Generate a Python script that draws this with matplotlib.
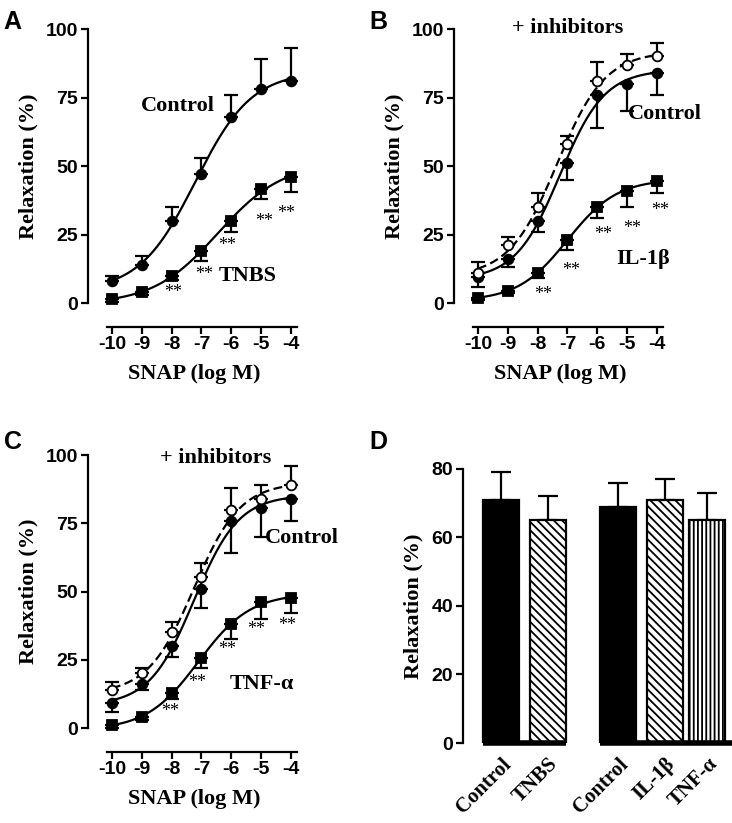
import numpy as np
import matplotlib
matplotlib.use("Agg")
import matplotlib.pyplot as plt

# SNAP concentration (log M)
log_snap = [-10, -9, -8, -7, -6, -5, -4]

# Panel A
a_control = [8, 14, 30, 47, 68, 78, 81]
a_control_err = [2, 3, 5, 6, 8, 11, 12]
a_tnbs = [1.5, 4, 10, 19, 30, 41.5, 46]
a_tnbs_err = [1, 1, 1.5, 3.5, 4, 3.5, 5.5]

# Panel B
b_control = [9.5, 16, 30, 51, 76, 80, 84]
b_control_err = [3.5, 3, 4, 6, 12, 10, 8]
b_inhib = [11, 21, 35, 58, 81, 87, 90]
b_inhib_err = [4, 3, 5, 3, 7, 4, 5]
b_il1 = [2, 4.5, 11, 23, 35, 41, 44.5]
b_il1_err = [1, 1, 2, 3.5, 4, 6, 4.5]

# Panel C
c_control = [9, 16, 30, 51, 76, 80.5, 84]
c_control_err = [3, 2, 4, 7, 12, 10.5, 8]
c_inhib = [14, 20, 35, 55.5, 80, 84, 89]
c_inhib_err = [3, 2, 4, 5, 8, 5, 7]
c_tnf = [1, 4, 13, 25.5, 38, 46, 47.5]
c_tnf_err = [1, 1, 2.5, 3.5, 5.5, 6, 5.5]

# Panel D
d_labels = ["Control", "TNBS", "Control", "IL-1β", "TNF-α"]
d_values = [71, 65, 69, 71, 65]
d_err = [8, 7, 7, 6, 8]

SERIF = "Liberation Serif"
SANS = "Liberation Sans"
plt.rcParams["font.family"] = SANS
plt.rcParams["hatch.linewidth"] = 1.3
plt.rcParams["axes.unicode_minus"] = False


def fit_sigmoid(x, y):
    # least squares fit of a logistic dose-response curve (grid over EC50/slope)
    x = np.asarray(x, float)
    y = np.asarray(y, float)
    best = None
    for ec in np.linspace(-10, -4, 121):
        for h in np.linspace(0.2, 1.5, 66):
            s = 1.0 / (1.0 + 10 ** ((ec - x) * h))
            A = np.column_stack([np.ones_like(s), s])
            coef, _, _, _ = np.linalg.lstsq(A, y, rcond=None)
            r = np.sum((A @ coef - y) ** 2)
            if best is None or r < best[0]:
                best = (r, ec, h, coef)
    _, ec, h, coef = best
    xs = np.linspace(x.min(), x.max(), 200)
    s = 1.0 / (1.0 + 10 ** ((ec - xs) * h))
    return xs, coef[0] + coef[1] * s


def draw_series(ax, y, err, marker, face, ls, up):
    xs, ys = fit_sigmoid(log_snap, y)
    ax.plot(xs, ys, color="black", lw=1.6, ls=ls, clip_on=False, zorder=2)
    e = np.array(err)
    yerr = [np.zeros_like(e), e] if up else [e, np.zeros_like(e)]
    ax.errorbar(log_snap, y, yerr=yerr, fmt="none", ecolor="black",
                elinewidth=1.6, capsize=5, capthick=1.6, clip_on=False, zorder=3)
    ms = 7.5 if marker == "s" else 7
    ax.plot(log_snap, y, ls="none", marker=marker, ms=ms, mfc=face,
            mec="black", mew=1.3, clip_on=False, zorder=4)


def style_curve_axes(ax):
    ax.set_xlim(-10.8, -3.7)
    ax.set_ylim(0, 100)
    for sp in ["top", "right"]:
        ax.spines[sp].set_visible(False)
    ax.spines["left"].set_linewidth(1.6)
    ax.spines["bottom"].set_linewidth(1.6)
    ax.spines["bottom"].set_position(("outward", 17))
    ax.spines["bottom"].set_bounds(-10.15, -3.8)
    ax.set_xticks(log_snap)
    ax.set_yticks([0, 25, 50, 75, 100])
    ax.tick_params(width=1.6, length=5, labelsize=14, pad=2)
    for t in ax.get_xticklabels() + ax.get_yticklabels():
        t.set_fontweight("bold")
    ax.set_xlabel("SNAP (log M)", fontfamily=SERIF, fontweight="bold",
                  fontsize=16, labelpad=8)
    ax.set_ylabel("Relaxation (%)", fontfamily=SERIF, fontweight="bold",
                  fontsize=16, labelpad=5)
    ax.patch.set_visible(False)


def stars(ax, pts):
    for x, y in pts:
        ax.text(x, y, "**", fontfamily=SERIF, fontsize=13, ha="center",
                va="center", clip_on=False)


def label(ax, x, y, s, ha="center"):
    ax.text(x, y, s, fontfamily=SERIF, fontweight="bold", fontsize=16,
            ha=ha, va="center", clip_on=False, zorder=5)


fig = plt.figure(figsize=(7.32, 8.23), dpi=100)

# A
axA = fig.add_axes([0.1202, 0.6318, 0.2896, 0.3329])
draw_series(axA, a_control, a_control_err, "o", "black", "-", True)
draw_series(axA, a_tnbs, a_tnbs_err, "s", "black", "-", False)
style_curve_axes(axA)
stars(axA, [(-7.95, 4), (-6.92, 10.5), (-6.15, 21), (-4.9, 29.8), (-4.15, 32.7)])
label(axA, -7.8, 72, "Control")
label(axA, -5.45, 10, "TNBS")

# B
axB = fig.add_axes([0.6202, 0.6318, 0.2896, 0.3329])
draw_series(axB, b_control, b_control_err, "o", "black", "-", False)
draw_series(axB, b_inhib, b_inhib_err, "o", "white", (0, (4, 2)), True)
draw_series(axB, b_il1, b_il1_err, "s", "black", "-", False)
style_curve_axes(axB)
stars(axB, [(-7.8, 3.2), (-6.86, 12), (-5.82, 25), (-4.83, 27.3), (-3.9, 33.7)])
label(axB, -7.0, 100.5, "+ inhibitors")
label(axB, -4.96, 69, "Control", ha="left")
label(axB, -4.46, 16, "IL-1β")

# C
axC = fig.add_axes([0.1202, 0.1154, 0.2896, 0.3317])
draw_series(axC, c_control, c_control_err, "o", "black", "-", False)
draw_series(axC, c_inhib, c_inhib_err, "o", "white", (0, (4, 2)), True)
draw_series(axC, c_tnf, c_tnf_err, "s", "black", "-", False)
style_curve_axes(axC)
stars(axC, [(-8.05, 6), (-7.13, 16.5), (-6.14, 28.7), (-5.17, 36), (-4.13, 37.4)])
label(axC, -6.54, 98.8, "+ inhibitors")
label(axC, -4.86, 69.5, "Control", ha="left")
label(axC, -4.97, 16, "TNF-α")

# D
axD = fig.add_axes([0.6325, 0.0972, 0.363, 0.333])
pos = [0, 1, 2.5, 3.5, 4.4]
faces = ["black", "white", "black", "white", "white"]
hatches = [None, "\\\\\\\\", None, "\\\\\\\\", "||||"]
w = 0.78
for p, v, f, h in zip(pos, d_values, faces, hatches):
    axD.bar(p, v, width=w, color=f, edgecolor="black", linewidth=1.6,
            hatch=h, zorder=2)
axD.errorbar(pos, d_values, yerr=[np.zeros(len(d_err)), d_err], fmt="none",
             ecolor="black", elinewidth=1.6, capsize=7, capthick=1.6, zorder=1)
for grp in [(0, 1), (2, 4)]:
    axD.plot([pos[grp[0]] - w / 2, pos[grp[1]] - w / 2 + w + 0.15 * (grp[0] == 2)],
             [0, 0], color="black", lw=4, solid_capstyle="butt", clip_on=False,
             zorder=3)
axD.set_xlim(-0.81, 4.86)
axD.set_ylim(0, 80)
for sp in ["top", "right", "bottom"]:
    axD.spines[sp].set_visible(False)
axD.spines["left"].set_linewidth(1.6)
axD.spines["left"].set_bounds(0, 80)
axD.set_yticks([0, 20, 40, 60, 80])
axD.tick_params(axis="y", width=1.6, length=5, labelsize=14, pad=2)
for t in axD.get_yticklabels():
    t.set_fontweight("bold")
axD.set_xticks(pos)
axD.set_xticklabels(d_labels, rotation=45, ha="right", rotation_mode="anchor",
                    fontfamily=SERIF, fontweight="bold", fontsize=15)
axD.tick_params(axis="x", length=0, pad=8)
axD.set_ylabel("Relaxation (%)", fontfamily=SERIF, fontweight="bold",
               fontsize=16, labelpad=6)
axD.patch.set_visible(False)

# panel letters
for x, y, s in [(0.005, 0.965, "A"), (0.505, 0.965, "B"),
                (0.005, 0.455, "C"), (0.505, 0.455, "D")]:
    fig.text(x, y, s, fontsize=18, fontweight="bold", family=SANS)

fig.savefig("out.png", dpi=100)
